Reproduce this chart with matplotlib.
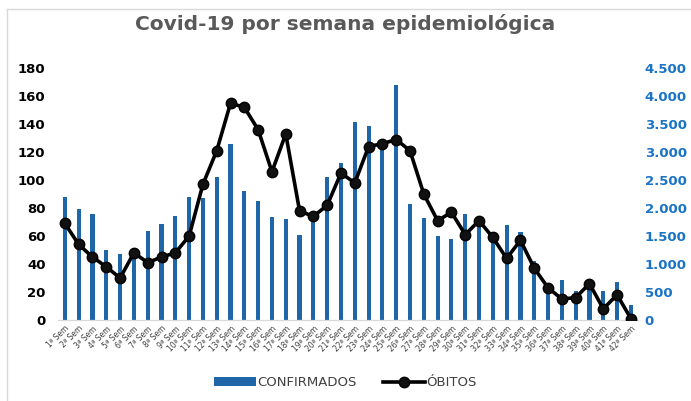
import numpy as np
import matplotlib
matplotlib.use("Agg")
import matplotlib.pyplot as plt
from matplotlib.ticker import FuncFormatter
from matplotlib.lines import Line2D

semanas = [f"{i}ª Sem" for i in range(1, 43)]

confirmados = [2200, 1975, 1890, 1250, 1180, 1150, 1590, 1715, 1860, 2200,
               2185, 2550, 3140, 2310, 2125, 1845, 1800, 1520, 1900, 2550,
               2800, 3540, 3465, 3100, 4200, 2070, 1815, 1500, 1440, 1890,
               1820, 1560, 1700, 1580, 1060, 650, 715, 510, 675, 525,
               685, 270]

obitos = [69, 54, 45, 38, 30, 48, 41, 45, 48, 60,
          97, 121, 155, 152, 136, 106, 133, 78, 74, 82,
          105, 98, 124, 126, 129, 121, 90, 71, 77, 61,
          71, 59, 44, 57, 37, 23, 15, 16, 26, 8,
          18, 1]

x = np.arange(len(semanas))

fig = plt.figure(figsize=(6.91, 4.01), dpi=100)
ax = fig.add_axes([0.0839, 0.202, 0.8391, 0.628])
ax2 = ax.twinx()

# barras no eixo direito, linha no esquerdo (por cima)
ax2.bar(x, confirmados, width=0.3, color="#1f66a8", zorder=1, label="CONFIRMADOS")
ax.plot(x, obitos, color="black", lw=2.6, marker="o", ms=7.5,
        markerfacecolor="#111111", markeredgecolor="black", zorder=3, label="ÓBITOS")
ax.set_zorder(ax2.get_zorder() + 1)
ax.patch.set_visible(False)

ax.set_xlim(-0.5, len(semanas) - 0.5)
ax.set_ylim(0, 180)
ax2.set_ylim(0, 4500)
ax.set_yticks(np.arange(0, 181, 20))
ax2.set_yticks(np.arange(0, 4501, 500))
ax2.yaxis.set_major_formatter(FuncFormatter(lambda v, p: f"{int(v):,}".replace(",", ".")))

for a in (ax, ax2):
    for s in ("top", "left", "right"):
        a.spines[s].set_visible(False)
    a.spines["bottom"].set_color("#d9d9d9")
    a.tick_params(axis="y", length=0)

ax.tick_params(axis="y", labelsize=9.5, pad=9, labelcolor="black")
for t in ax.get_yticklabels():
    t.set_fontweight("bold")
ax2.tick_params(axis="y", labelsize=9.5, pad=5, labelcolor="#1a73c4")
for t in ax2.get_yticklabels():
    t.set_fontweight("bold")

ax.set_xticks(x)
ax.set_xticklabels(semanas, rotation=45, ha="right", rotation_mode="anchor",
                   fontsize=5.5, color="#404040")
ax.tick_params(axis="x", length=0, pad=3)

fig.suptitle("Covid-19 por semana epidemiológica", y=0.965, fontsize=14.5,
             fontweight="bold", color="#595959")

h1, l1 = ax2.get_legend_handles_labels()
h2, l2 = ax.get_legend_handles_labels()
fig.legend(h1 + h2, l1 + l2, loc="center", bbox_to_anchor=(0.5, 0.045), ncol=2,
           frameon=False, fontsize=9.5, labelcolor="#404040", handlelength=3.2,
           handletextpad=0.1, columnspacing=2.0)

# moldura do gráfico
fig.add_artist(Line2D([0.0101, 1.0], [0.978, 0.978], color="#d9d9d9", lw=1))
fig.add_artist(Line2D([0.0101, 0.0101], [0.0, 0.978], color="#d9d9d9", lw=1))

fig.savefig("out.png", dpi=100, facecolor="white")
